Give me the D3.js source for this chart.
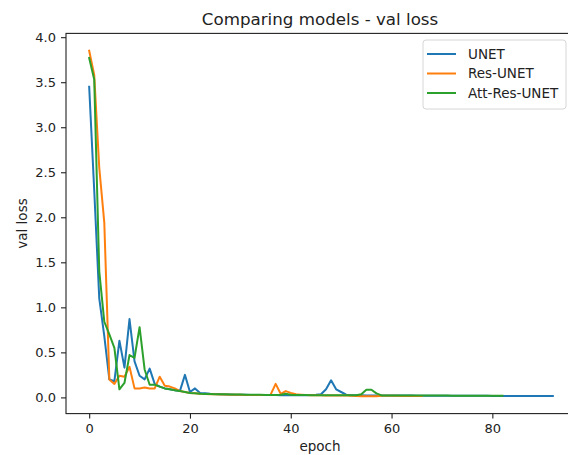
<!DOCTYPE html>
<html>
<head>
<meta charset="utf-8">
<script src="https://cdn.jsdelivr.net/npm/d3@7"></script>
<style>
  body { margin: 0; background: #fff; }
  svg { display: block; font-family: "DejaVu Sans", sans-serif; }
</style>
</head>
<body>
<svg id="chart" width="568" height="455"></svg>
<script>
// val loss per epoch
const unet = [
  3.45, 2.3, 1.1, 0.68, 0.2, 0.18, 0.63, 0.33, 0.87, 0.4,
  0.24, 0.2, 0.32, 0.15, 0.12, 0.1, 0.09, 0.08, 0.07, 0.25,
  0.06, 0.1, 0.05, 0.045, 0.04, 0.038, 0.035, 0.033, 0.032, 0.03,
  0.03, 0.029, 0.028, 0.028, 0.027, 0.027, 0.026, 0.026, 0.025, 0.025,
  0.025, 0.024, 0.024, 0.024, 0.027, 0.03, 0.035, 0.09, 0.19, 0.09,
  0.06, 0.03, 0.024, 0.023, 0.023, 0.022, 0.022, 0.022, 0.021, 0.021,
  0.021, 0.02, 0.02, 0.02, 0.02, 0.019, 0.019, 0.019, 0.019, 0.018,
  0.018, 0.018, 0.018, 0.018, 0.017, 0.017, 0.017, 0.017, 0.017, 0.017,
  0.016, 0.016, 0.016, 0.016, 0.016, 0.016, 0.016, 0.015, 0.015, 0.015,
  0.015, 0.015, 0.015
];
const resUnet = [
  3.85, 3.58, 2.55, 1.94, 0.2, 0.15, 0.24, 0.23, 0.34, 0.1,
  0.1, 0.11, 0.1, 0.1, 0.23, 0.13, 0.12, 0.1, 0.07, 0.06,
  0.05, 0.045, 0.04, 0.038, 0.036, 0.035, 0.033, 0.032, 0.03, 0.03,
  0.029, 0.028, 0.028, 0.027, 0.027, 0.026, 0.03, 0.15, 0.04, 0.07,
  0.05, 0.035, 0.03, 0.026, 0.025, 0.024, 0.023, 0.022, 0.022, 0.021,
  0.02, 0.02, 0.019, 0.016, 0.012, 0.012, 0.013, 0.014, 0.018, 0.018,
  0.017, 0.017, 0.016, 0.016, 0.016, 0.015, 0.015
];
const attResUnet = [
  3.77, 3.53, 1.4, 0.84, 0.7, 0.55, 0.09, 0.16, 0.47, 0.44,
  0.78, 0.31, 0.14, 0.14, 0.12, 0.1, 0.09, 0.08, 0.07, 0.06,
  0.05, 0.045, 0.04, 0.038, 0.037, 0.036, 0.035, 0.034, 0.033, 0.032,
  0.031, 0.03, 0.03, 0.029, 0.029, 0.028, 0.028, 0.027, 0.03, 0.04,
  0.03, 0.027, 0.026, 0.026, 0.025, 0.025, 0.025, 0.024, 0.024, 0.024,
  0.024, 0.023, 0.023, 0.025, 0.035, 0.085, 0.085, 0.045, 0.022, 0.022,
  0.022, 0.021, 0.021, 0.021, 0.021, 0.02, 0.02, 0.02, 0.02, 0.02,
  0.02, 0.02, 0.019, 0.019, 0.019, 0.019, 0.019, 0.019, 0.019, 0.019,
  0.019, 0.019, 0.019
];
const seriesNames = ["UNET", "Res-UNET", "Att-Res-UNET"];
const seriesColors = ["#1f77b4", "#ff7f0e", "#2ca02c"];
const yTicks = [0.0, 0.5, 1.0, 1.5, 2.0, 2.5, 3.0, 3.5, 4.0];
const xTicks = [0, 20, 40, 60, 80];

const series = [unet, resUnet, attResUnet].map((vals, i) => ({
  name: seriesNames[i],
  color: seriesColors[i],
  points: vals.map((v, e) => ({ epoch: e, loss: v }))
}));

const margin = { top: 33.4, left: 66 };
const width = 510, height = 380.2;

const svg = d3.select("#chart");

const allPts = series.flatMap(s => s.points);
const xExt = d3.extent(allPts, d => d.epoch);
const yExt = d3.extent(allPts, d => d.loss);
const xPad = (xExt[1] - xExt[0]) * 0.05;
const yPad = (yExt[1] - yExt[0]) * 0.05;

const x = d3.scaleLinear().domain([xExt[0] - xPad, xExt[1] + xPad]).range([0, width]);
const y = d3.scaleLinear().domain([yExt[0] - yPad, yExt[1] + yPad]).range([height, 0]);

const g = svg.append("g").attr("transform", `translate(${margin.left},${margin.top})`);

const line = d3.line().x(d => x(d.epoch)).y(d => y(d.loss));

g.selectAll("path.series")
  .data(series)
  .join("path")
  .attr("class", "series")
  .attr("d", d => line(d.points))
  .attr("fill", "none")
  .attr("stroke", d => d.color)
  .attr("stroke-width", 2)
  .attr("stroke-linejoin", "round")
  .attr("stroke-linecap", "square");

// frame
g.append("rect")
  .attr("width", width).attr("height", height)
  .attr("fill", "none").attr("stroke", "#222").attr("stroke-width", 1.1);

const xAxis = g.append("g")
  .attr("transform", `translate(0,${height})`)
  .call(d3.axisBottom(x).tickValues(xTicks).tickFormat(d3.format("d")).tickSize(5).tickPadding(5));
const yAxis = g.append("g")
  .call(d3.axisLeft(y).tickValues(yTicks).tickFormat(d3.format(".1f")).tickSize(5).tickPadding(5));

[xAxis, yAxis].forEach(a => {
  a.select(".domain").remove();
  a.selectAll("line").attr("stroke", "#222").attr("stroke-width", 1.1);
  a.selectAll("text")
    .attr("fill", "#222")
    .style("font-size", "13px")
    .style("font-family", "DejaVu Sans");
});

svg.append("text")
  .attr("x", margin.left + width / 2 - 1)
  .attr("y", 25)
  .attr("text-anchor", "middle")
  .attr("fill", "#222")
  .style("font-size", "16.7px")
  .text("Comparing models - val loss");

svg.append("text")
  .attr("x", margin.left + width / 2 - 1)
  .attr("y", 451)
  .attr("text-anchor", "middle")
  .attr("fill", "#222")
  .style("font-size", "13.5px")
  .text("epoch");

svg.append("text")
  .attr("transform", `translate(27,${margin.top + height / 2}) rotate(-90)`)
  .attr("text-anchor", "middle")
  .attr("fill", "#222")
  .style("font-size", "13.5px")
  .text("val loss");

// legend
const legend = svg.append("g").attr("transform", "translate(423,40)");
legend.append("rect")
  .attr("width", 143).attr("height", 69).attr("rx", 3)
  .attr("fill", "#fff").attr("fill-opacity", 0.8)
  .attr("stroke", "#d6d6d6");
const rows = legend.selectAll("g.row")
  .data(series)
  .join("g")
  .attr("class", "row")
  .attr("transform", (d, i) => `translate(0,${14 + i * 19.5})`);
rows.append("line")
  .attr("x1", 4).attr("x2", 33)
  .attr("stroke", d => d.color).attr("stroke-width", 2);
rows.append("text")
  .attr("x", 45).attr("dy", "0.35em")
  .attr("fill", "#222")
  .style("font-size", "13.5px")
  .text(d => d.name);
</script>
</body>
</html>
